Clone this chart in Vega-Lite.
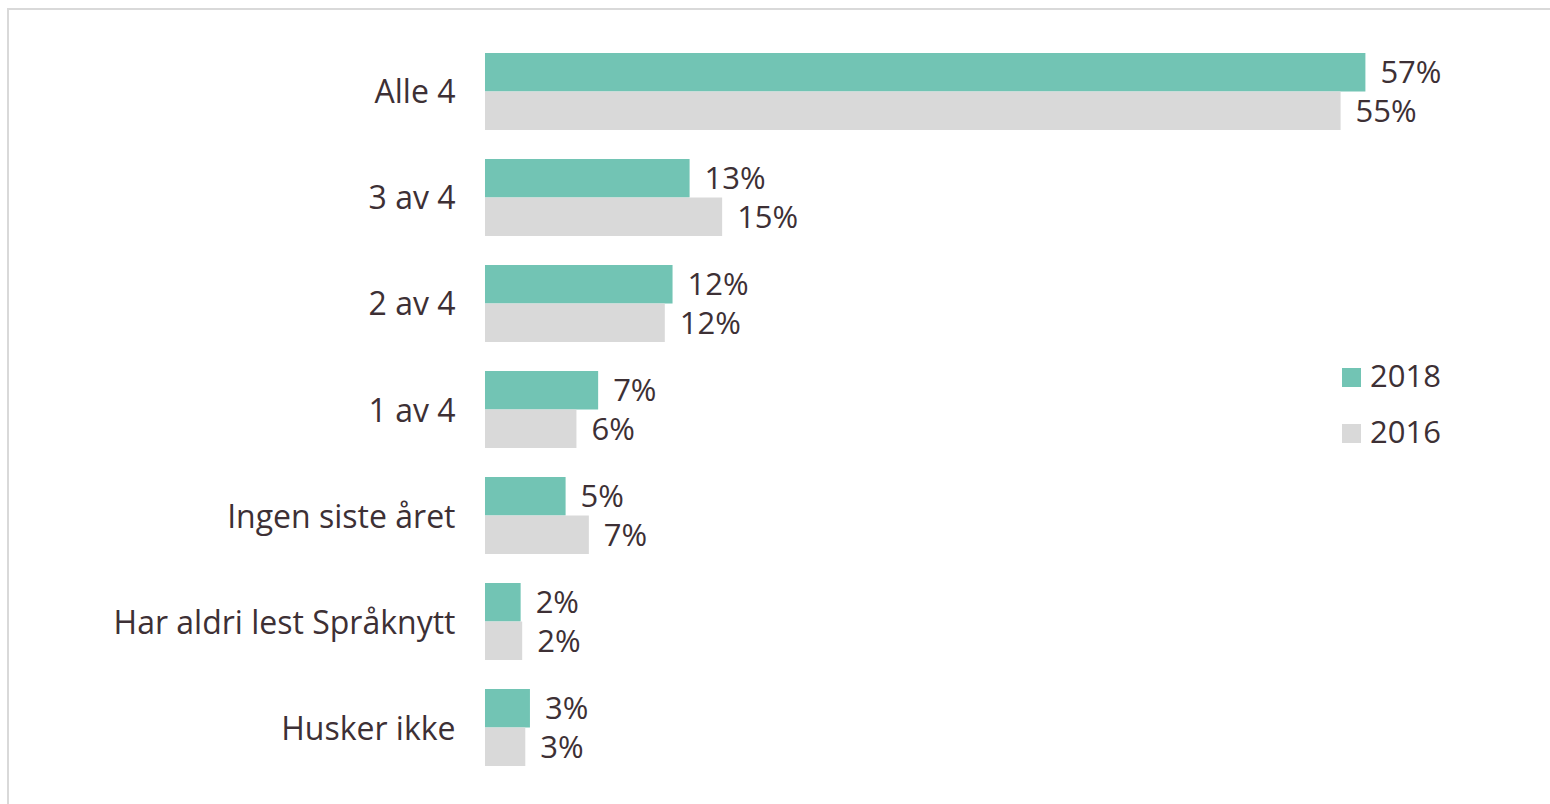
{
  "$schema": "https://vega.github.io/schema/vega-lite/v6.json",
  "autosize": "none",
  "width": 1560,
  "height": 801,
  "padding": {"left": 8, "top": 9, "right": 0, "bottom": 0},
  "background": "white",
  "config": {
    "view": {"stroke": "#d9d9d9", "strokeWidth": 2},
    "font": "Open Sans"
  },
  "data": {
    "values": [
      {"kategori": "Alle 4", "år": "2018", "verdi": 56.8, "etikett": "57%"},
      {"kategori": "Alle 4", "år": "2016", "verdi": 55.2, "etikett": "55%"},
      {"kategori": "3 av 4", "år": "2018", "verdi": 13.2, "etikett": "13%"},
      {"kategori": "3 av 4", "år": "2016", "verdi": 15.3, "etikett": "15%"},
      {"kategori": "2 av 4", "år": "2018", "verdi": 12.1, "etikett": "12%"},
      {"kategori": "2 av 4", "år": "2016", "verdi": 11.6, "etikett": "12%"},
      {"kategori": "1 av 4", "år": "2018", "verdi": 7.3, "etikett": "7%"},
      {"kategori": "1 av 4", "år": "2016", "verdi": 5.9, "etikett": "6%"},
      {"kategori": "Ingen siste året", "år": "2018", "verdi": 5.2, "etikett": "5%"},
      {"kategori": "Ingen siste året", "år": "2016", "verdi": 6.7, "etikett": "7%"},
      {"kategori": "Har aldri lest Språknytt", "år": "2018", "verdi": 2.3, "etikett": "2%"},
      {"kategori": "Har aldri lest Språknytt", "år": "2016", "verdi": 2.4, "etikett": "2%"},
      {"kategori": "Husker ikke", "år": "2018", "verdi": 2.9, "etikett": "3%"},
      {"kategori": "Husker ikke", "år": "2016", "verdi": 2.6, "etikett": "3%"}
    ]
  },
  "encoding": {
    "y": {
      "field": "kategori",
      "type": "nominal",
      "sort": null,
      "scale": {"paddingInner": 0, "paddingOuter": 0.2783, "align": 0.5},
      "axis": {
        "title": null,
        "domain": false,
        "ticks": false,
        "offset": -477,
        "labelPadding": 30,
        "labelOffset": 2,
        "labelFontSize": 32,
        "labelColor": "#3d3035",
        "labelFont": "Open Sans",
        "labelLimit": 600
      }
    },
    "yOffset": {
      "field": "år",
      "type": "nominal",
      "sort": ["2018", "2016"],
      "scale": {"paddingInner": 0, "paddingOuter": 0.377}
    },
    "x": {
      "field": "verdi",
      "type": "quantitative",
      "stack": null,
      "scale": {"domain": [-30.774, 69.871], "nice": false, "zero": false},
      "axis": null
    }
  },
  "layer": [
    {
      "mark": {"type": "bar"},
      "encoding": {
        "x2": {"datum": 0},
        "color": {
          "field": "år",
          "type": "nominal",
          "sort": ["2018", "2016"],
          "scale": {"domain": ["2018", "2016"], "range": ["#72C4B4", "#D9D9D9"]},
          "legend": {
            "title": null,
            "orient": "none",
            "legendX": 1328,
            "legendY": 353,
            "symbolType": "square",
            "symbolSize": 361,
            "symbolStrokeWidth": 0,
            "labelFontSize": 31,
            "labelFont": "Open Sans",
            "labelColor": "#3d3035",
            "labelOffset": 3,
            "rowPadding": 24
          }
        }
      }
    },
    {
      "mark": {
        "type": "text",
        "align": "left",
        "baseline": "middle",
        "dx": 15,
        "dy": 2,
        "fontSize": 31,
        "font": "Open Sans",
        "color": "#3d3035"
      },
      "encoding": {
        "text": {"field": "etikett"}
      }
    }
  ]
}
